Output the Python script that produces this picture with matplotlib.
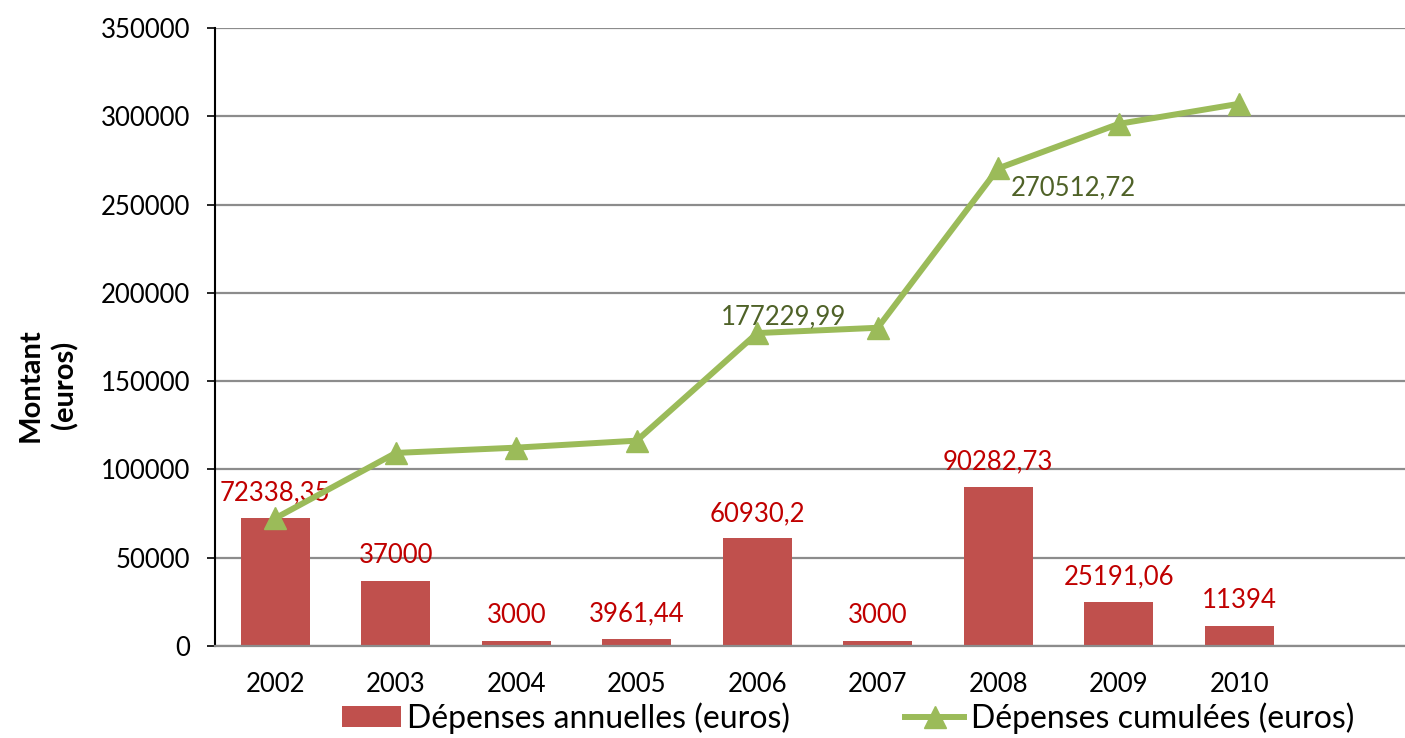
import matplotlib
matplotlib.use("Agg")
import matplotlib.pyplot as plt

plt.rcParams["font.family"] = ["Lato", "DejaVu Sans"]

# data
years = ["2002", "2003", "2004", "2005", "2006", "2007", "2008", "2009", "2010"]
annual = [72338.35, 37000, 3000, 3961.44, 60930.2, 3000, 90282.73, 25191.06, 11394]
cumul = [72338.35, 109338.35, 112338.35, 116299.79, 177229.99,
         180229.99, 270512.72, 295703.78, 307097.78]
annual_labels = ["72338,35", "37000", "3000", "3961,44", "60930,2",
                 "3000", "90282,73", "25191,06", "11394"]
# only two points of the cumulative series carry a label
cumul_labels = {4: "177229,99", 6: "270512,72"}

BAR_COLOR = "#C0504D"
LINE_COLOR = "#9BBB59"
GRID_COLOR = "#8C8C8C"

W, H = 1405, 738
fig = plt.figure(figsize=(W / 100, H / 100), dpi=100)
ax = fig.add_axes([215 / W, 1 - 646 / H, 1205 / W, 618 / H])

x = list(range(len(years)))
bars = ax.bar(x, annual, width=0.57, color=BAR_COLOR, zorder=2)
line, = ax.plot(x, cumul, color=LINE_COLOR, lw=4.3, marker="^", markersize=16,
                zorder=4)

for xi, v, t in zip(x, annual, annual_labels):
    ax.annotate(t, (xi, v), xytext=(0, 9), textcoords="offset points",
                ha="center", va="bottom", fontsize=18.5, color="#C00000", zorder=3)

ax.annotate(cumul_labels[4], (4, cumul[4]), xytext=(19, 12),
            textcoords="offset points", ha="center", va="center",
            fontsize=18.5, color="#4F6228", zorder=5)
ax.annotate(cumul_labels[6], (6, cumul[6]), xytext=(9, -14),
            textcoords="offset points", ha="left", va="center",
            fontsize=18.5, color="#4F6228", zorder=5)

ax.set_xlim(-0.5, 9.5)
ax.set_ylim(0, 350000)
ax.set_yticks(range(0, 350001, 50000))
ax.set_xticks(x)
ax.set_xticklabels(years)
ax.yaxis.grid(True, color=GRID_COLOR, lw=1.6, zorder=0)
ax.set_axisbelow(True)

for s in ["top", "right"]:
    ax.spines[s].set_visible(False)
ax.spines["left"].set_color("black")
ax.spines["left"].set_linewidth(1.5)
ax.spines["bottom"].set_color(GRID_COLOR)
ax.spines["bottom"].set_linewidth(1.6)
ax.tick_params(axis="y", length=6, width=1.2, pad=12, labelsize=18.5)
ax.tick_params(axis="x", length=0, pad=19, labelsize=18.5)

fig.text(48 / W, 1 - 385 / H, "Montant\n(euros)", rotation=90, ha="center",
         va="center", fontsize=21, fontweight="bold", multialignment="center",
         linespacing=1.35)

fig.legend([bars, line], ["Dépenses annuelles (euros)", "Dépenses cumulées (euros)"],
           loc="center", bbox_to_anchor=(848 / W, 1 - 718 / H), ncol=2,
           frameon=False, fontsize=23, handlelength=1.85, handleheight=0.65,
           handletextpad=0.2, columnspacing=3.6, borderpad=0)

fig.savefig("out.png", dpi=100)
